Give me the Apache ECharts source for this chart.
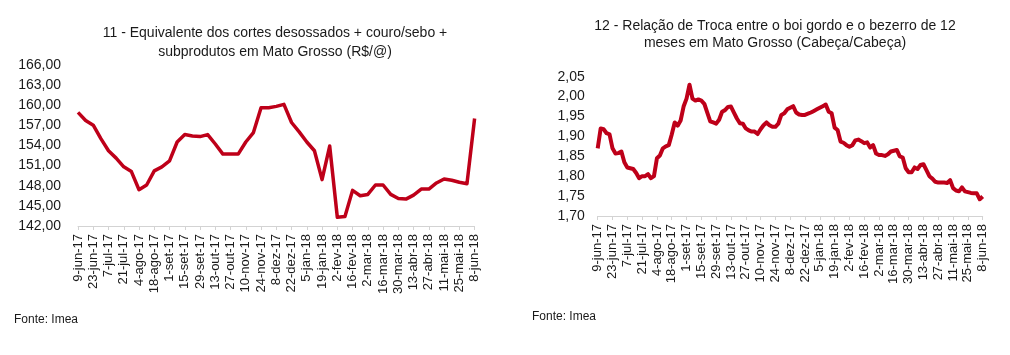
<!DOCTYPE html>
<html>
<head>
<meta charset="utf-8">
<script src="https://cdn.jsdelivr.net/npm/echarts@6/dist/echarts.min.js"></script>
<style>
html,body{margin:0;padding:0;background:#fff;}
#c{width:1010px;height:355px;}
</style>
</head>
<body>
<div id="c"></div>
<script>
// ---- Data ----
var monthsPt = ['jan','fev','mar','abr','mai','jun','jul','ago','set','out','nov','dez'];

// Chart 11: weekly values, 9-jun-17 .. 8-jun-18 (R$/@)
var equivValues = [
  158.9, 157.7, 157.0, 155.0, 153.2, 152.1, 150.8, 150.1, 147.4, 148.1,
  150.2, 150.8, 151.7, 154.5, 155.6, 155.4, 155.3, 155.6, 154.2, 152.7,
  152.7, 152.7, 154.5, 155.9, 159.6, 159.6, 159.8, 160.1, 157.4, 156.0,
  154.5, 153.2, 148.9, 153.9, 143.3, 143.4, 147.3, 146.5, 146.7, 148.1,
  148.1, 146.7, 146.1, 146.0, 146.6, 147.5, 147.5, 148.4, 149.0, 148.8,
  148.5, 148.3, 158.0
];

// Chart 12: exchange ratio, every 2nd business day, 9-jun-17 .. 8-jun-18
var trocaValues = [
  1.870, 1.920, 1.918, 1.908, 1.905, 1.870, 1.857, 1.858, 1.862, 1.835,
  1.822, 1.820, 1.818, 1.808, 1.795, 1.800, 1.800, 1.805, 1.795, 1.800,
  1.845, 1.852, 1.870, 1.875, 1.878, 1.905, 1.935, 1.927, 1.940, 1.975,
  1.995, 2.030, 1.995, 1.990, 1.993, 1.990, 1.982, 1.960, 1.938, 1.935,
  1.932, 1.942, 1.962, 1.966, 1.974, 1.975, 1.960, 1.945, 1.933, 1.932,
  1.920, 1.915, 1.912, 1.912, 1.906, 1.918, 1.928, 1.935, 1.928, 1.924,
  1.924, 1.932, 1.954, 1.958, 1.968, 1.972, 1.976, 1.960, 1.955, 1.954,
  1.954, 1.957, 1.960, 1.964, 1.968, 1.972, 1.976, 1.980, 1.962, 1.958,
  1.922, 1.916, 1.887, 1.884, 1.878, 1.874, 1.878, 1.890, 1.892, 1.888,
  1.883, 1.885, 1.872, 1.878, 1.857, 1.853, 1.853, 1.851, 1.855, 1.862,
  1.864, 1.866, 1.850, 1.847, 1.820, 1.810, 1.810, 1.822, 1.818, 1.828,
  1.830, 1.815, 1.800, 1.794, 1.786, 1.784, 1.784, 1.784, 1.783, 1.790,
  1.770, 1.764, 1.762, 1.772, 1.762, 1.760, 1.758, 1.757, 1.757, 1.742,
  1.749
];

function fmtDate(d){
  return d.getUTCDate() + '-' + monthsPt[d.getUTCMonth()] + '-' + String(d.getUTCFullYear()).slice(2);
}
// weekly categories
var weeklyDates = [];
(function(){
  var d = new Date(Date.UTC(2017,5,9));
  for (var i=0;i<equivValues.length;i++){
    weeklyDates.push(fmtDate(d));
    d = new Date(d.getTime()+7*86400000);
  }
})();
// every-2nd-business-day categories
var bizDates = [];
(function(){
  var d = new Date(Date.UTC(2017,5,9));
  bizDates.push(fmtDate(d));
  while (bizDates.length < trocaValues.length){
    var n = 0;
    while (n < 2){
      d = new Date(d.getTime()+86400000);
      var wd = d.getUTCDay();
      if (wd !== 0 && wd !== 6) n++;
    }
    bizDates.push(fmtDate(d));
  }
})();

var titleLeft = ['11 - Equivalente dos cortes desossados + couro/sebo +', 'subprodutos em Mato Grosso (R$/@)'];
var titleRight = ['12 - Relação de Troca entre o boi gordo e o bezerro de 12', 'meses em Mato Grosso (Cabeça/Cabeça)'];
var sourceText = 'Fonte: Imea';

// ---- Styles ----
var FONT = 'Liberation Sans, Arial, sans-serif';
var RED = '#BE0019';
var AXIS = '#d3d3d3';
var TXT = '#1a1a1a';

function comma(v){ return v.toFixed(2).replace('.', ','); }

var chart = echarts.init(document.getElementById('c'), null, {renderer:'canvas'});
chart.setOption({
  animation:false,
  backgroundColor:'#fff',
  graphic:[
    {type:'text', x:275, y:33, style:{text:titleLeft[0], font:'14px '+FONT, fill:TXT, textAlign:'center', textVerticalAlign:'middle'}},
    {type:'text', x:275, y:52, style:{text:titleLeft[1], font:'14px '+FONT, fill:TXT, textAlign:'center', textVerticalAlign:'middle'}},
    {type:'text', x:775, y:26, style:{text:titleRight[0], font:'14px '+FONT, fill:TXT, textAlign:'center', textVerticalAlign:'middle'}},
    {type:'text', x:775, y:43, style:{text:titleRight[1], font:'14px '+FONT, fill:TXT, textAlign:'center', textVerticalAlign:'middle'}},
    {type:'text', x:14, y:320, style:{text:sourceText, font:'12px '+FONT, fill:TXT, textAlign:'left', textVerticalAlign:'middle'}},
    {type:'text', x:532, y:317, style:{text:sourceText, font:'12px '+FONT, fill:TXT, textAlign:'left', textVerticalAlign:'middle'}}
  ],
  grid:[
    {left:78, top:64.7, width:396.6, height:161.3},
    {left:597.7, top:76.7, width:385, height:139.3}
  ],
  xAxis:[
    {type:'category', gridIndex:0, data:weeklyDates, boundaryGap:false,
     axisLine:{lineStyle:{color:AXIS, width:1}},
     axisTick:{interval:1, length:4, lineStyle:{color:AXIS}},
     axisLabel:{interval:1, rotate:90, margin:8, fontSize:13, fontFamily:FONT, color:TXT}},
    {type:'category', gridIndex:1, data:bizDates, boundaryGap:false,
     axisLine:{lineStyle:{color:AXIS, width:1}},
     axisTick:{interval:4, length:4, lineStyle:{color:AXIS}},
     axisLabel:{interval:4, rotate:90, margin:8, fontSize:13, fontFamily:FONT, color:TXT}}
  ],
  yAxis:[
    {type:'value', gridIndex:0, min:142, max:166, interval:3,
     axisLine:{show:false}, axisTick:{show:false}, splitLine:{show:false},
     axisLabel:{margin:17, fontSize:14, fontFamily:FONT, color:TXT, formatter:comma}},
    {type:'value', gridIndex:1, min:1.70, max:2.05, interval:0.05,
     axisLine:{show:false}, axisTick:{show:false}, splitLine:{show:false},
     axisLabel:{margin:13, fontSize:14, fontFamily:FONT, color:TXT, formatter:comma}}
  ],
  series:[
    {type:'line', xAxisIndex:0, yAxisIndex:0, data:equivValues, showSymbol:false, symbol:'none',
     lineStyle:{color:RED, width:3.5, join:'round'}},
    {type:'line', xAxisIndex:1, yAxisIndex:1, data:trocaValues, showSymbol:false, symbol:'none',
     lineStyle:{color:RED, width:4, join:'round'}}
  ]
});
</script>
</body>
</html>
